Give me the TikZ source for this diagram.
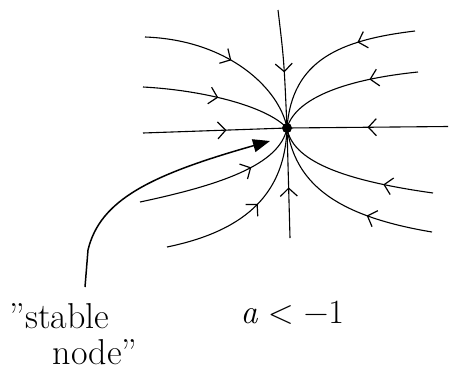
\documentclass[tikz,border=0pt]{standalone}
\usetikzlibrary{arrows.meta,decorations.markings}

\begin{document}
\begin{tikzpicture}[
    x=1pt,y=-1pt,
    line width=1.1pt,
    traj/.style={postaction={decorate},
                 decoration={markings,mark=at position #1 with
                   {\arrow{Straight Barb[length=8pt,width=17pt,line width=1.2pt]}}}},
    pointer/.style={-{Triangle[length=17pt,width=13pt]},line width=1.5pt},
    hand/.style={inner sep=0pt,font=\fontsize{36}{36}\selectfont}
  ]
  \useasboundingbox (0,0) rectangle (454,373);

  % fixed point
  \node[circle,fill,inner sep=0pt,minimum size=10pt] (fp) at (287,128) {};

  % axes through the node
  \draw[traj=0.58] (143,133) -- (fp.center);
  \draw[traj=0.5] (448,126.5) -- (fp.center);
  \draw[traj=0.53] (278,10) .. controls (284,60) .. (fp.center);
  \draw[traj=0.46] (290,238) -- (fp.center);

  % upper trajectories
  \draw[traj=0.5] (145,37) .. controls (230,40) and (280,90) .. (fp.center);
  \draw[traj=0.5] (143,87) .. controls (200,90) and (265,105) .. (fp.center);
  \draw[traj=0.33] (415,31) .. controls (340,40) and (292,60) .. (fp.center);
  \draw[traj=0.33] (418,72) .. controls (340,80) and (295,100) .. (fp.center);

  % lower trajectories
  \draw[traj=0.68] (140,202) .. controls (220,185) and (280,165) .. (fp.center);
  \draw[traj=0.55] (167,247) .. controls (250,230) and (285,190) .. (fp.center);
  \draw[traj=0.3] (433,193) .. controls (340,180) and (292,160) .. (fp.center);
  \draw[traj=0.35] (432,232) .. controls (330,215) and (295,180) .. (fp.center);

  % labels
  \node[hand,align=left,anchor=base west] (stable) at (9,364)
    {''stable\\\hspace*{1.2em}node''};
  \node[hand,anchor=base west,font=\fontsize{34}{36}\selectfont] (cond) at (240,323)
    {\itshape a\upshape\ < −1};

  \coordinate (tail) at (85,287);
  \draw[pointer] (tail) -- (88,250) .. controls (100,200) and (150,175) .. (270,141);
\end{tikzpicture}
\end{document}
